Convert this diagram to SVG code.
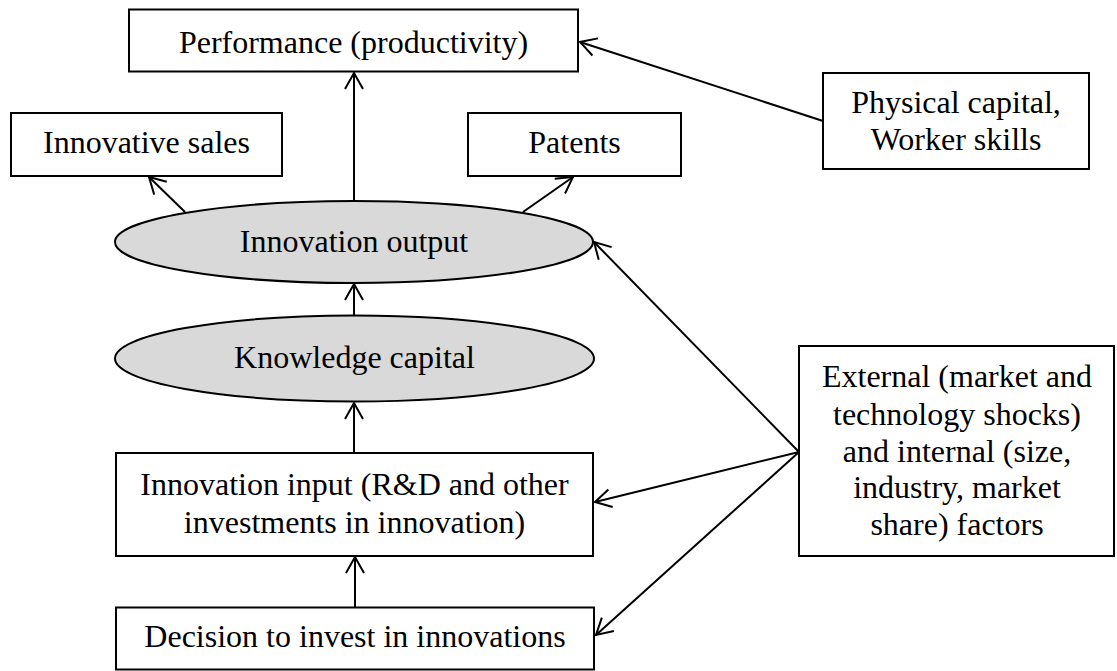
<svg xmlns="http://www.w3.org/2000/svg" width="1117" height="671" viewBox="0 0 1117 671">
  <defs>
    <style>
      .box { fill: #ffffff; stroke: #000000; stroke-width: 2; }
      .oval { fill: #d9d9d9; stroke: #000000; stroke-width: 2; }
      .lbl { font-family: "Liberation Serif", "Times New Roman", serif; font-size: 32px; fill: #000000; text-anchor: middle; }
      .edge { fill: none; stroke: #000000; stroke-width: 2; marker-end: url(#open-arrow); }
    </style>
    <marker id="open-arrow" markerUnits="userSpaceOnUse" viewBox="-20 -12 24 24" refX="0" refY="0" markerWidth="24" markerHeight="24" orient="auto">
      <path d="M-16,-9 L0,0 L-16,9" fill="none" stroke="#000000" stroke-width="2" stroke-linejoin="miter"/>
    </marker>
  </defs>
  <rect width="1117" height="671" fill="#ffffff"/>

  <g id="connectors">
    <line class="edge" x1="354" y1="201" x2="354" y2="73"/>
    <line class="edge" x1="185" y1="212" x2="149" y2="177"/>
    <line class="edge" x1="523" y1="212" x2="573" y2="177"/>
    <line class="edge" x1="354" y1="315" x2="354" y2="284"/>
    <line class="edge" x1="354" y1="453" x2="354" y2="403"/>
    <line class="edge" x1="355" y1="607" x2="355" y2="557"/>
    <line class="edge" x1="823" y1="121" x2="580" y2="42"/>
    <line class="edge" x1="799" y1="452" x2="594" y2="242"/>
    <line class="edge" x1="799" y1="452" x2="595" y2="502"/>
    <line class="edge" x1="799" y1="452" x2="596" y2="635"/>
  </g>

  <g id="performance">
    <rect class="box" x="129" y="9.5" width="449" height="62"/>
    <text class="lbl" x="353.5" y="53">Performance (productivity)</text>
  </g>

  <g id="innovative-sales">
    <rect class="box" x="11" y="113" width="271" height="63"/>
    <text class="lbl" x="146.5" y="153">Innovative sales</text>
  </g>

  <g id="patents">
    <rect class="box" x="468" y="113" width="213" height="63"/>
    <text class="lbl" x="574.5" y="153">Patents</text>
  </g>

  <g id="physical-capital">
    <rect class="box" x="823" y="73" width="266" height="96"/>
    <text class="lbl" x="956" y="113">Physical capital,</text>
    <text class="lbl" x="956" y="150">Worker skills</text>
  </g>

  <g id="innovation-output">
    <ellipse class="oval" cx="354" cy="242" rx="239" ry="41"/>
    <text class="lbl" x="354" y="252">Innovation output</text>
  </g>

  <g id="knowledge-capital">
    <ellipse class="oval" cx="354.5" cy="358.5" rx="239.5" ry="43"/>
    <text class="lbl" x="354.5" y="368">Knowledge capital</text>
  </g>

  <g id="innovation-input">
    <rect class="box" x="116" y="453" width="477" height="103"/>
    <text class="lbl" x="354.5" y="495">Innovation input (R&amp;D and other</text>
    <text class="lbl" x="354.5" y="533">investments in innovation)</text>
  </g>

  <g id="decision">
    <rect class="box" x="116" y="607.5" width="478" height="62"/>
    <text class="lbl" x="355" y="647">Decision to invest in innovations</text>
  </g>

  <g id="factors">
    <rect class="box" x="799" y="346" width="315" height="210"/>
    <text class="lbl" x="957" y="387">External (market and</text>
    <text class="lbl" x="957" y="425">technology shocks)</text>
    <text class="lbl" x="957" y="462">and internal (size,</text>
    <text class="lbl" x="957" y="498">industry, market</text>
    <text class="lbl" x="957" y="535">share) factors</text>
  </g>
</svg>
